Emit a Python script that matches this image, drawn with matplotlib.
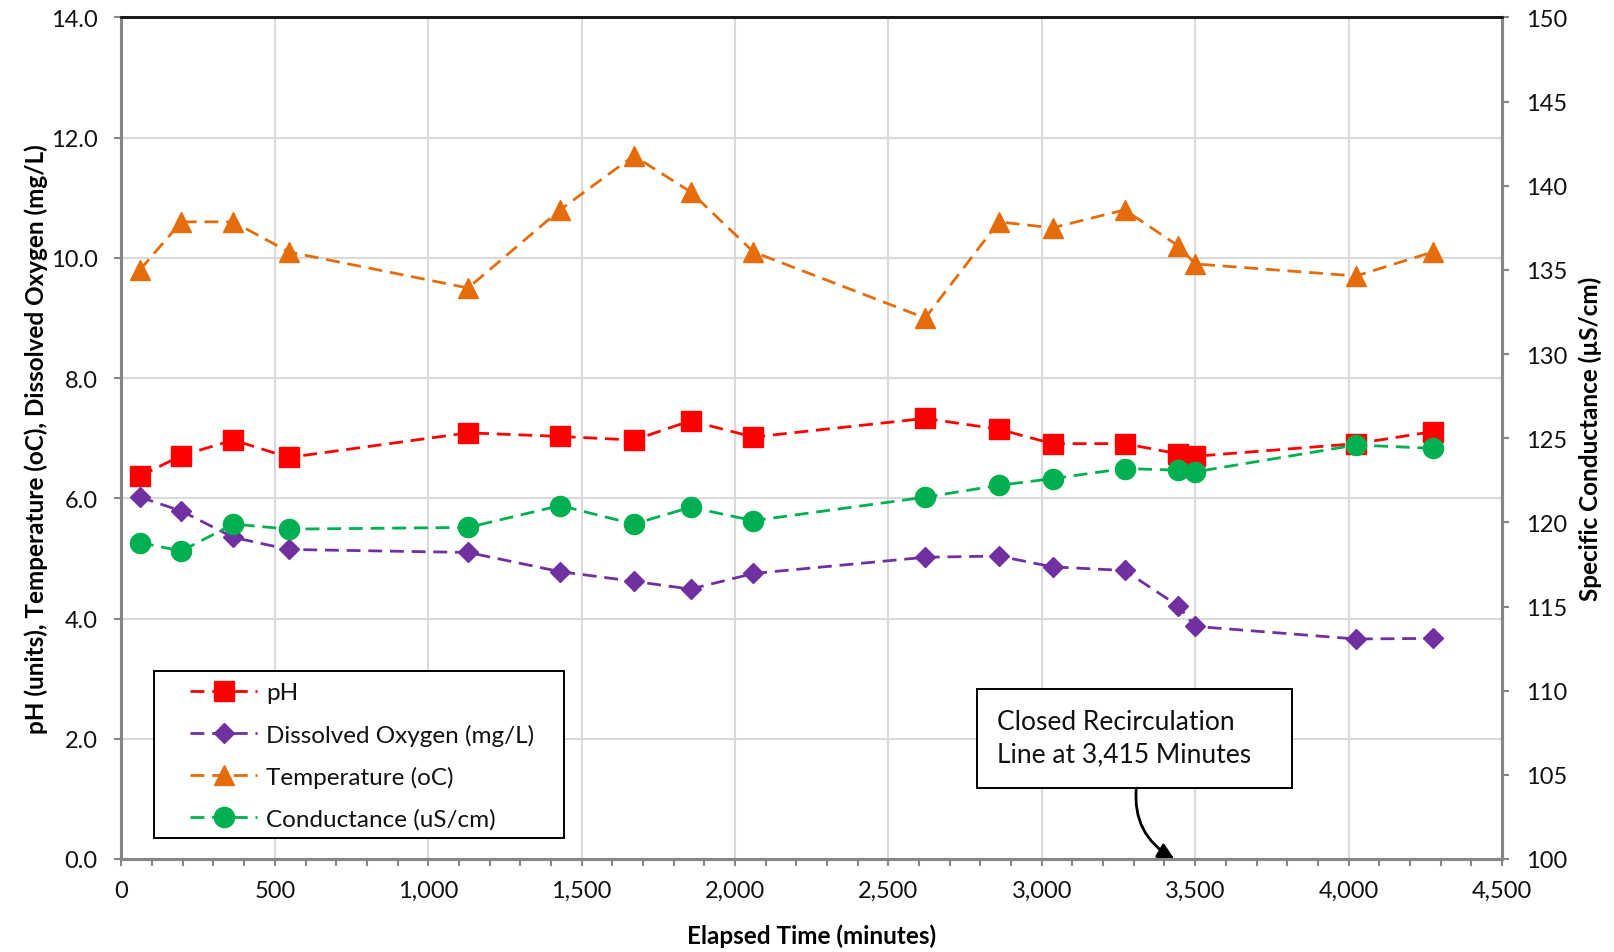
import matplotlib
matplotlib.use("Agg")
import matplotlib.pyplot as plt
from matplotlib.ticker import MultipleLocator, FuncFormatter
from matplotlib.patches import Rectangle

plt.rcParams['font.family'] = ['Lato', 'DejaVu Sans']

time_min = [60, 195, 365, 545, 1130, 1430, 1670, 1855, 2060, 2620, 2860, 3035, 3270, 3445, 3500, 4025, 4275]
ph = [6.37, 6.71, 6.97, 6.68, 7.09, 7.03, 6.97, 7.29, 7.02, 7.33, 7.15, 6.91, 6.91, 6.74, 6.70, 6.91, 7.11]
dissolved_oxygen = [6.02, 5.79, 5.35, 5.15, 5.10, 4.78, 4.62, 4.49, 4.75, 5.02, 5.04, 4.86, 4.80, 4.21, 3.87, 3.66, 3.67]
temperature = [9.8, 10.6, 10.6, 10.1, 9.5, 10.8, 11.7, 11.1, 10.1, 9.0, 10.6, 10.5, 10.8, 10.2, 9.9, 9.7, 10.1]
conductance = [118.8, 118.3, 119.9, 119.6, 119.7, 121.0, 119.9, 120.9, 120.1, 121.5, 122.2, 122.6, 123.2, 123.1, 123.0, 124.6, 124.4]

labels = ['pH', 'Dissolved Oxygen (mg/L)', 'Temperature (oC)', 'Conductance (uS/cm)']
colors = ['#FF0000', '#7030A0', '#E46C0A', '#00B050']

fig = plt.figure(figsize=(16.15, 9.53), dpi=100)
ax = fig.add_axes([0.0752, 0.0976, 0.8548, 0.883])
ax2 = ax.twinx()

dash = (0, (5, 2.8))
lw = 2.0
h1, = ax.plot(time_min, ph, color=colors[0], ls=dash, lw=lw, marker='s', ms=14.5, label=labels[0], zorder=4)
h2, = ax.plot(time_min, dissolved_oxygen, color=colors[1], ls=dash, lw=lw, marker='D', ms=10.5, label=labels[1], zorder=4)
h3, = ax.plot(time_min, temperature, color=colors[2], ls=dash, lw=lw, marker='^', ms=15, label=labels[2], zorder=4)
h4, = ax2.plot(time_min, conductance, color=colors[3], ls=dash, lw=lw, marker='o', ms=14.5, label=labels[3], zorder=4)

ax.set_xlim(0, 4500)
ax.set_ylim(0, 14)
ax2.set_ylim(100, 150)

ax.xaxis.set_major_locator(MultipleLocator(500))
ax.xaxis.set_minor_locator(MultipleLocator(100))
ax.yaxis.set_major_locator(MultipleLocator(2))
ax2.yaxis.set_major_locator(MultipleLocator(5))
ax.xaxis.set_major_formatter(FuncFormatter(lambda v, p: f"{int(v):,}"))
ax.yaxis.set_major_formatter(FuncFormatter(lambda v, p: f"{v:.1f}"))
ax2.yaxis.set_major_formatter(FuncFormatter(lambda v, p: f"{int(v)}"))

ax.grid(True, which='major', color='#D9D9D9', lw=1.5)
ax.set_axisbelow(True)

for a in (ax, ax2):
    for name, s in a.spines.items():
        s.set_color('#868686')
        s.set_linewidth(2.2)
    a.spines['top'].set_color('#1a1a1a')
    a.spines['top'].set_linewidth(2.0)

tc = '#868686'
ax.tick_params(axis='x', which='major', direction='out', length=5, color=tc, labelsize=17, width=1.5, pad=10, labelcolor='#111111')
ax.tick_params(axis='x', which='minor', direction='out', length=5, color=tc, width=1.5)
ax.tick_params(axis='y', which='major', direction='out', length=5, color=tc, labelsize=17, width=1.5, pad=12, labelcolor='#111111')
ax2.tick_params(axis='y', which='major', direction='out', length=5, color=tc, labelsize=17, width=1.5, pad=12, labelcolor='#111111')

ax.set_xlabel('Elapsed Time (minutes)', fontsize=17.5, fontweight='bold', labelpad=16)
ax.set_ylabel('pH (units), Temperature (oC), Dissolved Oxygen (mg/L)', fontsize=17.5, fontweight='bold', labelpad=2)
ax2.set_ylabel('Specific Conductance (µS/cm)', fontsize=17.5, fontweight='bold', labelpad=8)

# legend frame drawn separately so its padding matches the reference
ax.add_patch(Rectangle((0.0239, 0.0244), 0.2969, 0.1995, transform=ax.transAxes,
                       fc='white', ec='black', lw=1.4, zorder=9))
leg = ax.legend(handles=[h1, h2, h3, h4], loc='upper left', bbox_to_anchor=(0.050, 0.210),
                fontsize=17.5, frameon=False, borderpad=0, labelspacing=0.83,
                handlelength=2.75, handletextpad=0.35, borderaxespad=0)
leg.set_zorder(10)
for t in leg.get_texts():
    t.set_color('#111111')

# annotation box and curved arrow
ax.add_patch(Rectangle((2790, 1.18), 1024, 1.65, fc='white', ec='black', lw=1.4, zorder=9))
ax.text(2855, 2.02, 'Closed Recirculation\nLine at 3,415 Minutes', fontsize=19, ha='left', va='center',
        linespacing=1.38, color='#111111', zorder=10)
ax.annotate('', xy=(3432, 0.0), xytext=(3308, 1.18), zorder=10,
            arrowprops=dict(arrowstyle='-|>', color='black', lw=2, mutation_scale=24,
                            connectionstyle='angle3,angleA=-95,angleB=150', shrinkA=0, shrinkB=0))

fig.savefig('out.png', dpi=100)
